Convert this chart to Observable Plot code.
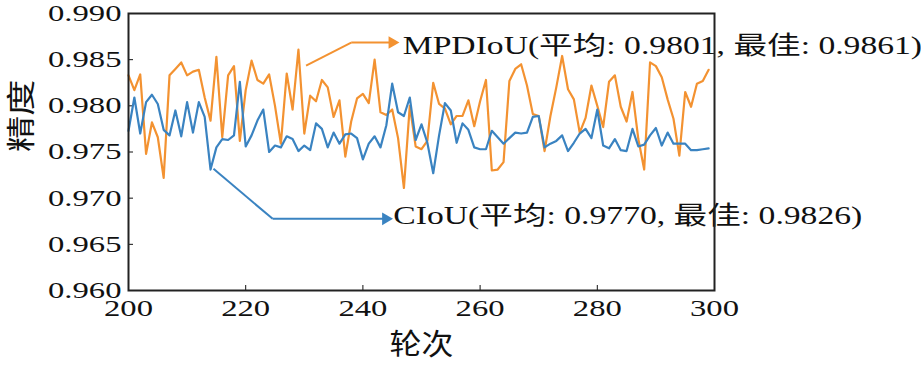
<!DOCTYPE html>
<html><head><meta charset="utf-8">
<script src="https://cdn.jsdelivr.net/npm/d3@7"></script>
<script src="https://cdn.jsdelivr.net/npm/@observablehq/plot@0.6"></script>
<style>
html,body{margin:0;padding:0;background:#fff;}
#chart svg text{font-family:'Liberation Serif','Noto Sans CJK SC',serif;}
</style>
</head><body><div id="chart"></div>
<script>
const epochs = [200,201,202,203,204,205,206,207,208,209,210,211,212,213,214,215,216,217,218,219,220,221,222,223,224,225,226,227,228,229,230,231,232,233,234,235,236,237,238,239,240,241,242,243,244,245,246,247,248,249,250,251,252,253,254,255,256,257,258,259,260,261,262,263,264,265,266,267,268,269,270,271,272,273,274,275,276,277,278,279,280,281,282,283,284,285,286,287,288,289,290,291,292,293,294,295,296,297,298,299];
const mpdiou = [0.9833,0.9817,0.9834,0.9748,0.9782,0.9766,0.9722,0.9833,0.9840,0.9847,
0.9833,0.9837,0.9839,0.9809,0.9784,0.9853,0.9766,0.9833,0.9843,0.9762,
0.9817,0.9849,0.9828,0.9824,0.9834,0.9800,0.9759,0.9835,0.9796,0.9861,
0.9770,0.9811,0.9805,0.9828,0.9820,0.9788,0.9806,0.9745,0.9783,0.9808,
0.9813,0.9803,0.9850,0.9793,0.9790,0.9796,0.9765,0.9711,0.9800,0.9756,
0.9753,0.9762,0.9825,0.9802,0.9797,0.9780,0.9789,0.9789,0.9806,0.9778,
0.9805,0.9828,0.9730,0.9731,0.9739,0.9827,0.9840,0.9845,0.9822,0.9791,
0.9789,0.9751,0.9789,0.9820,0.9854,0.9818,0.9807,0.9771,0.9787,0.9822,
0.9800,0.9777,0.9826,0.9833,0.9799,0.9783,0.9815,0.9764,0.9731,0.9847,
0.9843,0.9831,0.9807,0.9786,0.9746,0.9815,0.9799,0.9824,0.9827,0.9839];
const ciou = [0.9773,0.9809,0.9770,0.9804,0.9812,0.9802,0.9774,0.9768,0.9795,0.9767,
0.9804,0.9771,0.9804,0.9788,0.9731,0.9755,0.9764,0.9763,0.9768,0.9826,
0.9756,0.9768,0.9784,0.9796,0.9750,0.9757,0.9755,0.9767,0.9764,0.9751,
0.9757,0.9752,0.9781,0.9775,0.9755,0.9771,0.9759,0.9769,0.9770,0.9765,
0.9742,0.9759,0.9767,0.9755,0.9779,0.9824,0.9793,0.9789,0.9809,0.9763,
0.9780,0.9760,0.9727,0.9768,0.9803,0.9795,0.9760,0.9781,0.9774,0.9755,
0.9753,0.9753,0.9773,0.9766,0.9759,0.9765,0.9771,0.9770,0.9771,0.9788,
0.9789,0.9755,0.9759,0.9762,0.9768,0.9751,0.9760,0.9770,0.9775,0.9765,
0.9796,0.9757,0.9754,0.9764,0.9752,0.9751,0.9775,0.9756,0.9758,0.9768,
0.9776,0.9757,0.9771,0.9759,0.9759,0.9759,0.9752,0.9752,0.9753,0.9754];
const xTicks = [200,220,240,260,280,300];
const yTicks = [0.960,0.965,0.970,0.975,0.980,0.985,0.990];
const seriesNames = ["MPDIoU","CIoU"];
const seriesColors = ["#f39231","#3a83c1"];
const labels = ["MPDIoU(平均: 0.9801, 最佳: 0.9861)","CIoU(平均: 0.9770, 最佳: 0.9826)"];
const xTitle = "轮次";
const yTitle = "精度";
// annotation leader paths (epoch, value)
const mpdLeader = [[230.3,0.98436],[238.0,0.98685],[245.0,0.98685]];
const ciouLeader = [[214.5,0.97318],[224.6,0.96776],[243.9,0.96776]];
const labelAnchors = [[246.8,0.98653],[245.2,0.96808]];

const FONT = "'Liberation Serif','Noto Sans CJK SC',serif";
const rows = [];
epochs.forEach((e,i)=>{rows.push({epoch:e,value:mpdiou[i],series:seriesNames[0]});});
epochs.forEach((e,i)=>{rows.push({epoch:e,value:ciou[i],series:seriesNames[1]});});

function leaderMarks(path, color){
  const segs = [];
  for(let i=0;i<path.length-1;i++) segs.push({x1:path[i][0],y1:path[i][1],x2:path[i+1][0],y2:path[i+1][1]});
  const tip = path[path.length-1];
  return [
    Plot.link(segs,{x1:"x1",y1:"y1",x2:"x2",y2:"y2",stroke:color,strokeWidth:2}),
    Plot.dot([tip],{x:d=>d[0],y:d=>d[1],symbol:"triangle2",rotate:90,r:6,fill:color,stroke:"none"})
  ];
}

const chart = Plot.plot({
  width:921, height:367,
  marginLeft:128, marginRight:207, marginTop:13, marginBottom:77,
  style:{fontFamily:FONT, background:"#fff", color:"#111", fontSize:"23px"},
  x:{domain:[200,300], ticks:xTicks, tickFormat:d=>String(d), label:null, tickSize:-5, tickPadding:14},
  y:{domain:[0.960,0.990], ticks:yTicks, tickFormat:d3.format(".3f"), label:null, tickSize:-5, tickPadding:12},
  marks:[
    Plot.line(rows,{x:"epoch",y:"value",z:"series",stroke:d=>seriesColors[seriesNames.indexOf(d.series)],strokeWidth:2.2}),
    ...leaderMarks(mpdLeader, seriesColors[0]),
    ...leaderMarks(ciouLeader, seriesColors[1]),
    Plot.text(labelAnchors,{x:d=>d[0],y:d=>d[1],text:(d,i)=>labels[i],textAnchor:"start",fontSize:25,fill:"#111",className:"annot"}),
    Plot.text([xTitle],{frameAnchor:"bottom",dy:64,fontSize:29,fill:"#111",className:"ttl"}),
    Plot.text([yTitle],{frameAnchor:"left",dx:-106,rotate:-90,fontSize:29,fill:"#111",className:"ttly"}),
    Plot.frame({stroke:"#222",strokeWidth:2})
  ]
});
document.getElementById("chart").appendChild(chart);

// widen glyphs horizontally (reference text is horizontally stretched)
function stretch(sel, S){
  chart.querySelectorAll(sel).forEach(t=>{
    const len = t.getComputedTextLength();
    if(len>0){ t.setAttribute("textLength", (len*S).toFixed(1)); t.setAttribute("lengthAdjust","spacingAndGlyphs"); }
  });
}
stretch("[aria-label='x-axis tick label'] text", 1.42);
stretch("[aria-label='y-axis tick label'] text", 1.42);
stretch(".annot text", 1.345);
stretch(".ttl text", 1.1);
stretch(".ttly text", 1.25);
</script>
</body></html>
